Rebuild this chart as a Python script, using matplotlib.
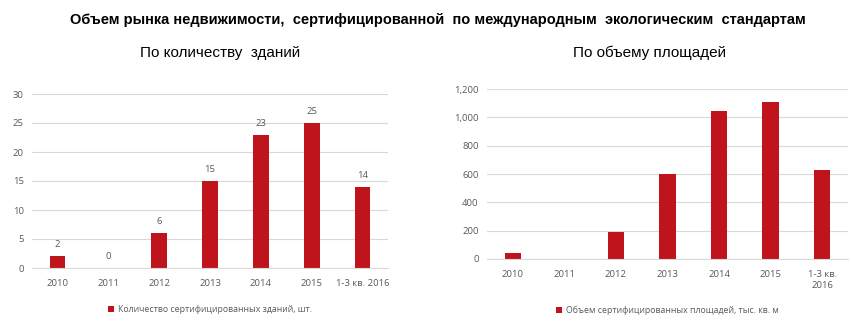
import matplotlib.pyplot as plt
from matplotlib.ticker import FuncFormatter

years_left = ["2010", "2011", "2012", "2013", "2014", "2015", "1-3 кв. 2016"]
years_right = ["2010", "2011", "2012", "2013", "2014", "2015", "1-3 кв.\n2016"]
buildings = [2, 0, 6, 15, 23, 25, 14]
area = [44, 0, 194, 603, 1046, 1109, 627]

BAR = "#C0141C"
GRID = "#D9D9D9"
TICK = "#595959"

plt.rcParams['font.family'] = ['Open Sans', 'DejaVu Sans']

fig = plt.figure(figsize=(8.53, 3.32), dpi=100)

narrow = ['Liberation Sans Narrow', 'Liberation Sans', 'DejaVu Sans']
fig.text(0.513, 0.94, "Объем рынка недвижимости,  сертифицированной  по международным  экологическим  стандартам",
         ha="center", va="center", fontsize=10.5, fontweight="bold", family=narrow)
fig.text(0.258, 0.84, "По количеству  зданий", ha="center", va="center", fontsize=11, family=narrow)
fig.text(0.762, 0.84, "По объему площадей", ha="center", va="center", fontsize=11, family=narrow)


def style(ax):
    for s in ax.spines.values():
        s.set_visible(False)
    ax.spines["bottom"].set_visible(True)
    ax.spines["bottom"].set_color(GRID)
    ax.yaxis.grid(True, color=GRID, linewidth=0.8)
    ax.set_axisbelow(True)
    ax.tick_params(axis="both", length=0, labelsize=6.8, colors=TICK)
    ax.tick_params(axis="x", pad=8)
    ax.tick_params(axis="y", pad=6)
    ax.set_xlim(-0.5, 6.5)


# left: number of buildings
ax1 = fig.add_axes([32 / 853, 64 / 332, 356 / 853, 174 / 332])
ax1.bar(range(len(buildings)), buildings, width=0.31, color=BAR,
        label="Количество сертифицированных зданий, шт.")
ax1.set_ylim(0, 30)
ax1.set_yticks(range(0, 31, 5))
ax1.set_xticks(range(len(years_left)))
ax1.set_xticklabels(years_left)
style(ax1)
for i, v in enumerate(buildings):
    ax1.text(i, v + 1.2, str(v), ha="center", va="bottom", fontsize=6.8, color=TICK)
ax1.legend(loc="upper center", bbox_to_anchor=(0.5, -0.17), frameon=False, fontsize=6.3,
           handlelength=0.7, handleheight=0.7, handletextpad=0.4, labelcolor=TICK)

# right: floor area
ax2 = fig.add_axes([487 / 853, 73 / 332, 361 / 853, 170 / 332])
ax2.bar(range(len(area)), area, width=0.32, color=BAR,
        label="Объем сертифицированных площадей, тыс. кв. м")
ax2.set_ylim(0, 1200)
ax2.set_yticks(range(0, 1201, 200))
ax2.yaxis.set_major_formatter(FuncFormatter(lambda v, p: f"{int(v):,}"))
ax2.set_xticks(range(len(years_right)))
ax2.set_xticklabels(years_right)
style(ax2)
ax2.legend(loc="upper center", bbox_to_anchor=(0.5, -0.23), frameon=False, fontsize=6.3,
           handlelength=0.7, handleheight=0.7, handletextpad=0.4, labelcolor=TICK)

fig.savefig("out.png", dpi=100)
